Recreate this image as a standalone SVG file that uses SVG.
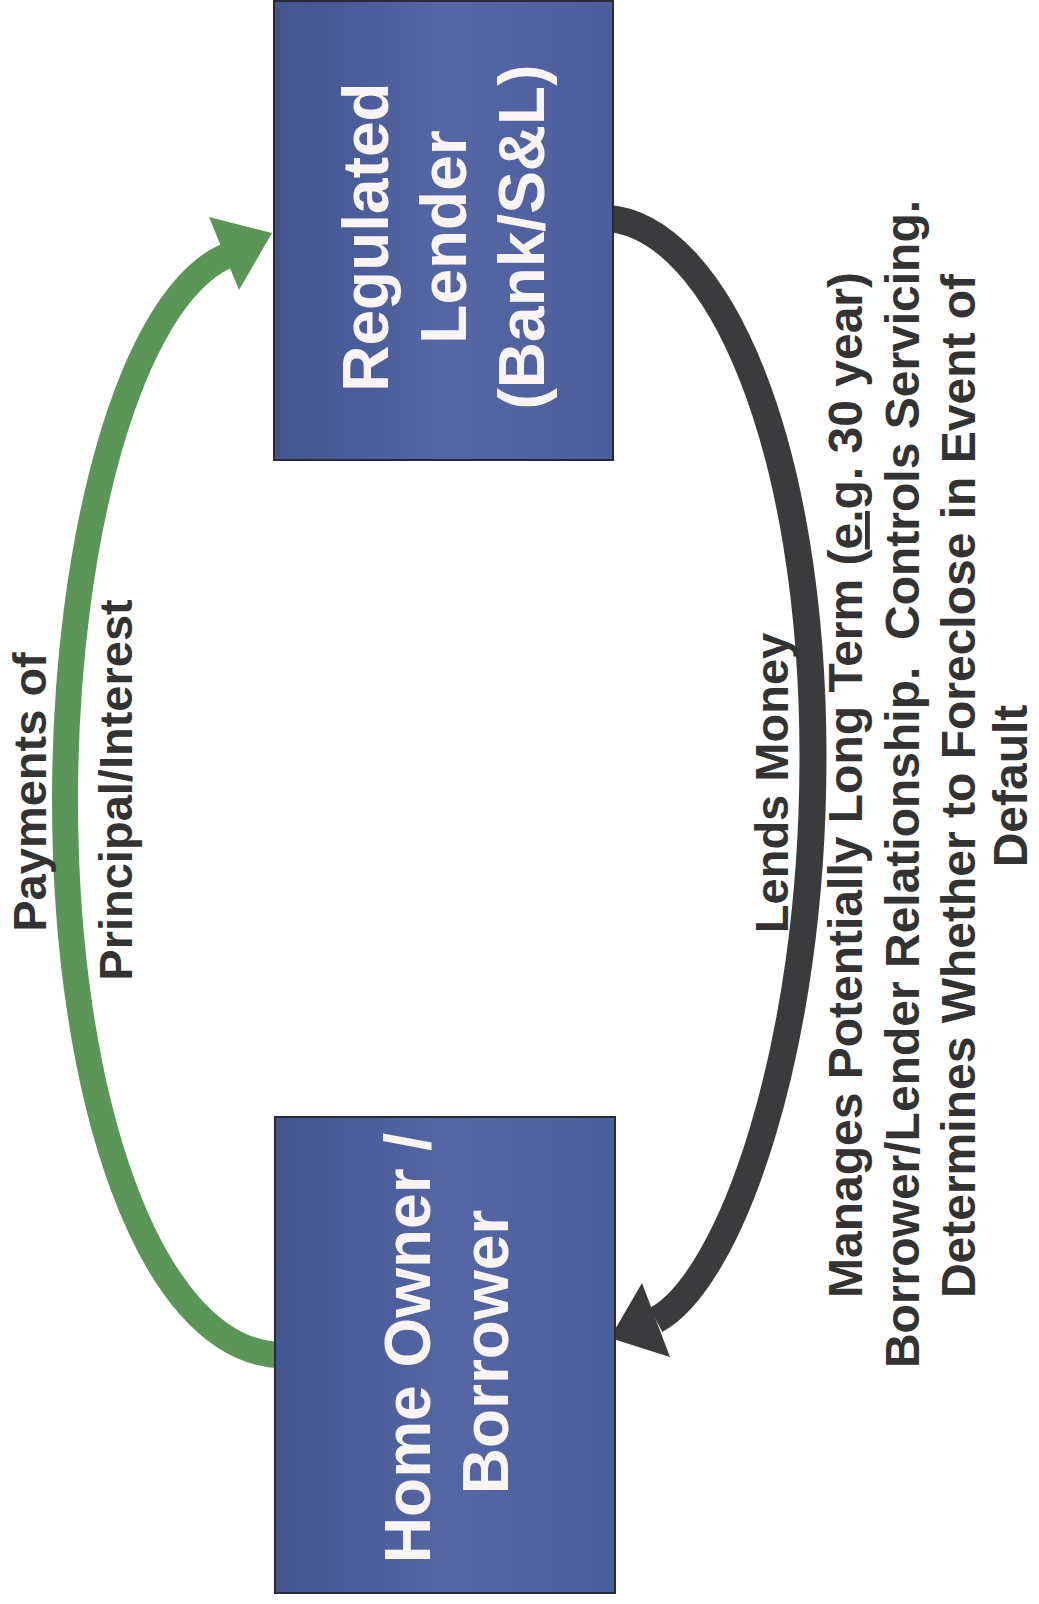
<svg xmlns="http://www.w3.org/2000/svg" width="1039" height="1604" viewBox="0 0 1039 1604">
<defs>
<linearGradient id="boxfill" x1="0" y1="0" x2="1" y2="0">
<stop offset="0" stop-color="#43558f"/>
<stop offset="0.5" stop-color="#5466a3"/>
<stop offset="1" stop-color="#4d5e9d"/>
</linearGradient>
<style>
.box{fill:url(#boxfill);stroke:#2a2a35;stroke-width:2}
.boxtext{font-family:"Liberation Sans",Arial,sans-serif;font-weight:bold;font-size:64px;fill:#fbf4f4;text-anchor:middle}
.label{font-family:"Liberation Sans",Arial,sans-serif;font-weight:bold;font-size:47px;fill:#333;text-anchor:middle;white-space:pre}
.big{font-size:48px}
.green{fill:none;stroke:#5b9658;stroke-width:26}
.dark{fill:none;stroke:#3b3b3d;stroke-width:27}
</style>
</defs>
<rect width="1039" height="1604" fill="#ffffff"/>
<g id="connectors">
<path class="green" d="M 276 1355 C 150 1345, 65 1100, 65 800 C 65 540, 130 300, 226 256"/>
<polygon points="272,233 209,217 239,290" fill="#5b9658"/>
<path class="dark" d="M 605 218 C 720 225, 813 450, 813 757 C 813 1050, 730 1280, 656 1320"/>
<polygon points="610,1338 642,1283 670,1357" fill="#3b3b3d"/>
</g>
<g id="node-lender">
<rect class="box" x="274" y="1" width="339" height="459"/>
<text class="boxtext" transform="translate(388,237) rotate(-90)">Regulated</text>
<text class="boxtext" transform="translate(466,237) rotate(-90)">Lender</text>
<text class="boxtext" transform="translate(544,237) rotate(-90)">(Bank/S&amp;L)</text>
</g>
<g id="node-borrower">
<rect class="box" x="275" y="1117" width="340" height="476"/>
<text class="boxtext" transform="translate(430,1348) rotate(-90)">Home Owner /</text>
<text class="boxtext" transform="translate(508,1352) rotate(-90)">Borrower</text>
</g>
<g id="label-payments">
<text class="label" transform="translate(46,792) rotate(-90)">Payments of</text>
<text class="label" transform="translate(132,790) rotate(-90)">Principal/Interest</text>
</g>
<g id="label-lends">
<text class="label" transform="translate(788,783) rotate(-90)">Lends Money</text>
</g>
<g id="label-manages">
<text class="label big" transform="translate(862,785) rotate(-90)">Manages Potentially Long Term (<tspan text-decoration="underline">e.g</tspan>. 30 year)</text>
<text class="label big" transform="translate(919,784) rotate(-90)">Borrower/Lender Relationship.  Controls Servicing.</text>
<text class="label big" transform="translate(975,786) rotate(-90)">Determines Whether to Foreclose in Event of</text>
<text class="label big" transform="translate(1027,786) rotate(-90)">Default</text>
</g>
</svg>
